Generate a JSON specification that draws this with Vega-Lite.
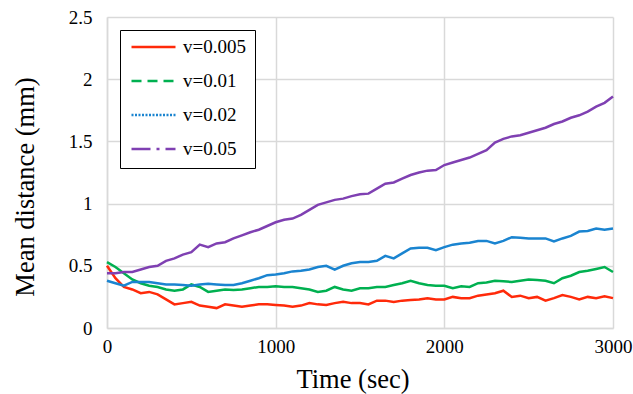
{
 "$schema": "https://vega.github.io/schema/vega-lite/v6.json",
 "width": 506, "height": 311,
 "autosize": {"type": "none"},
 "padding": {"left": 107, "top": 17, "right": 20, "bottom": 66},
 "background": "white",
 "config": {
  "view": {"stroke": null},
  "font": "Liberation Serif",
  "axis": {"gridColor": "#d9d9d9", "gridWidth": 1.5, "domainColor": "#d9d9d9", "domainWidth": 1.5, "ticks": false, "labelFont": "Liberation Serif", "labelFontSize": 19, "labelColor": "#000", "labelFlush": false, "titleFont": "Liberation Serif", "titleFontSize": 26.5, "titleFontWeight": "normal", "titleColor": "#000"}
 },
 "datasets": {
  "curves": [
{"t":0,"s":"v=0.005","d":0.50},{"t":50,"s":"v=0.005","d":0.40},{"t":100,"s":"v=0.005","d":0.33},{"t":150,"s":"v=0.005","d":0.31},{"t":200,"s":"v=0.005","d":0.28},{"t":250,"s":"v=0.005","d":0.29},{"t":300,"s":"v=0.005","d":0.27},{"t":350,"s":"v=0.005","d":0.23},{"t":400,"s":"v=0.005","d":0.19},{"t":450,"s":"v=0.005","d":0.20},{"t":500,"s":"v=0.005","d":0.21},{"t":550,"s":"v=0.005","d":0.18},{"t":600,"s":"v=0.005","d":0.17},{"t":650,"s":"v=0.005","d":0.16},{"t":700,"s":"v=0.005","d":0.19},{"t":750,"s":"v=0.005","d":0.18},{"t":800,"s":"v=0.005","d":0.17},{"t":850,"s":"v=0.005","d":0.18},{"t":900,"s":"v=0.005","d":0.19},{"t":950,"s":"v=0.005","d":0.19},{"t":1000,"s":"v=0.005","d":0.185},{"t":1050,"s":"v=0.005","d":0.18},{"t":1100,"s":"v=0.005","d":0.17},{"t":1150,"s":"v=0.005","d":0.18},{"t":1200,"s":"v=0.005","d":0.20},{"t":1250,"s":"v=0.005","d":0.19},{"t":1300,"s":"v=0.005","d":0.185},{"t":1350,"s":"v=0.005","d":0.20},{"t":1400,"s":"v=0.005","d":0.21},{"t":1450,"s":"v=0.005","d":0.20},{"t":1500,"s":"v=0.005","d":0.20},{"t":1550,"s":"v=0.005","d":0.19},{"t":1600,"s":"v=0.005","d":0.22},{"t":1650,"s":"v=0.005","d":0.22},{"t":1700,"s":"v=0.005","d":0.21},{"t":1750,"s":"v=0.005","d":0.22},{"t":1800,"s":"v=0.005","d":0.225},{"t":1850,"s":"v=0.005","d":0.23},{"t":1900,"s":"v=0.005","d":0.24},{"t":1950,"s":"v=0.005","d":0.23},{"t":2000,"s":"v=0.005","d":0.23},{"t":2050,"s":"v=0.005","d":0.25},{"t":2100,"s":"v=0.005","d":0.24},{"t":2150,"s":"v=0.005","d":0.24},{"t":2200,"s":"v=0.005","d":0.26},{"t":2250,"s":"v=0.005","d":0.27},{"t":2300,"s":"v=0.005","d":0.28},{"t":2350,"s":"v=0.005","d":0.30},{"t":2400,"s":"v=0.005","d":0.25},{"t":2450,"s":"v=0.005","d":0.26},{"t":2500,"s":"v=0.005","d":0.24},{"t":2550,"s":"v=0.005","d":0.25},{"t":2600,"s":"v=0.005","d":0.22},{"t":2650,"s":"v=0.005","d":0.24},{"t":2700,"s":"v=0.005","d":0.265},{"t":2750,"s":"v=0.005","d":0.25},{"t":2800,"s":"v=0.005","d":0.23},{"t":2850,"s":"v=0.005","d":0.25},{"t":2900,"s":"v=0.005","d":0.24},{"t":2950,"s":"v=0.005","d":0.255},{"t":3000,"s":"v=0.005","d":0.24},
{"t":0,"s":"v=0.01","d":0.53},{"t":50,"s":"v=0.01","d":0.49},{"t":100,"s":"v=0.01","d":0.44},{"t":150,"s":"v=0.01","d":0.39},{"t":200,"s":"v=0.01","d":0.36},{"t":250,"s":"v=0.01","d":0.34},{"t":300,"s":"v=0.01","d":0.33},{"t":350,"s":"v=0.01","d":0.31},{"t":400,"s":"v=0.01","d":0.30},{"t":450,"s":"v=0.01","d":0.31},{"t":500,"s":"v=0.01","d":0.35},{"t":550,"s":"v=0.01","d":0.33},{"t":600,"s":"v=0.01","d":0.29},{"t":650,"s":"v=0.01","d":0.30},{"t":700,"s":"v=0.01","d":0.31},{"t":750,"s":"v=0.01","d":0.305},{"t":800,"s":"v=0.01","d":0.31},{"t":850,"s":"v=0.01","d":0.32},{"t":900,"s":"v=0.01","d":0.33},{"t":950,"s":"v=0.01","d":0.33},{"t":1000,"s":"v=0.01","d":0.335},{"t":1050,"s":"v=0.01","d":0.33},{"t":1100,"s":"v=0.01","d":0.33},{"t":1150,"s":"v=0.01","d":0.32},{"t":1200,"s":"v=0.01","d":0.31},{"t":1250,"s":"v=0.01","d":0.29},{"t":1300,"s":"v=0.01","d":0.30},{"t":1350,"s":"v=0.01","d":0.33},{"t":1400,"s":"v=0.01","d":0.31},{"t":1450,"s":"v=0.01","d":0.30},{"t":1500,"s":"v=0.01","d":0.32},{"t":1550,"s":"v=0.01","d":0.32},{"t":1600,"s":"v=0.01","d":0.33},{"t":1650,"s":"v=0.01","d":0.33},{"t":1700,"s":"v=0.01","d":0.345},{"t":1750,"s":"v=0.01","d":0.36},{"t":1800,"s":"v=0.01","d":0.38},{"t":1850,"s":"v=0.01","d":0.36},{"t":1900,"s":"v=0.01","d":0.345},{"t":1950,"s":"v=0.01","d":0.34},{"t":2000,"s":"v=0.01","d":0.34},{"t":2050,"s":"v=0.01","d":0.32},{"t":2100,"s":"v=0.01","d":0.335},{"t":2150,"s":"v=0.01","d":0.33},{"t":2200,"s":"v=0.01","d":0.36},{"t":2250,"s":"v=0.01","d":0.365},{"t":2300,"s":"v=0.01","d":0.38},{"t":2350,"s":"v=0.01","d":0.375},{"t":2400,"s":"v=0.01","d":0.37},{"t":2450,"s":"v=0.01","d":0.38},{"t":2500,"s":"v=0.01","d":0.39},{"t":2550,"s":"v=0.01","d":0.385},{"t":2600,"s":"v=0.01","d":0.38},{"t":2650,"s":"v=0.01","d":0.36},{"t":2700,"s":"v=0.01","d":0.40},{"t":2750,"s":"v=0.01","d":0.42},{"t":2800,"s":"v=0.01","d":0.45},{"t":2850,"s":"v=0.01","d":0.46},{"t":2900,"s":"v=0.01","d":0.475},{"t":2950,"s":"v=0.01","d":0.49},{"t":3000,"s":"v=0.01","d":0.45},
{"t":0,"s":"v=0.02","d":0.38},{"t":50,"s":"v=0.02","d":0.36},{"t":100,"s":"v=0.02","d":0.34},{"t":150,"s":"v=0.02","d":0.37},{"t":200,"s":"v=0.02","d":0.37},{"t":250,"s":"v=0.02","d":0.37},{"t":300,"s":"v=0.02","d":0.36},{"t":350,"s":"v=0.02","d":0.35},{"t":400,"s":"v=0.02","d":0.35},{"t":450,"s":"v=0.02","d":0.345},{"t":500,"s":"v=0.02","d":0.34},{"t":550,"s":"v=0.02","d":0.35},{"t":600,"s":"v=0.02","d":0.355},{"t":650,"s":"v=0.02","d":0.35},{"t":700,"s":"v=0.02","d":0.345},{"t":750,"s":"v=0.02","d":0.345},{"t":800,"s":"v=0.02","d":0.36},{"t":850,"s":"v=0.02","d":0.38},{"t":900,"s":"v=0.02","d":0.40},{"t":950,"s":"v=0.02","d":0.425},{"t":1000,"s":"v=0.02","d":0.43},{"t":1050,"s":"v=0.02","d":0.44},{"t":1100,"s":"v=0.02","d":0.455},{"t":1150,"s":"v=0.02","d":0.46},{"t":1200,"s":"v=0.02","d":0.47},{"t":1250,"s":"v=0.02","d":0.49},{"t":1300,"s":"v=0.02","d":0.50},{"t":1350,"s":"v=0.02","d":0.47},{"t":1400,"s":"v=0.02","d":0.50},{"t":1450,"s":"v=0.02","d":0.52},{"t":1500,"s":"v=0.02","d":0.53},{"t":1550,"s":"v=0.02","d":0.53},{"t":1600,"s":"v=0.02","d":0.54},{"t":1650,"s":"v=0.02","d":0.58},{"t":1700,"s":"v=0.02","d":0.56},{"t":1750,"s":"v=0.02","d":0.60},{"t":1800,"s":"v=0.02","d":0.64},{"t":1850,"s":"v=0.02","d":0.645},{"t":1900,"s":"v=0.02","d":0.645},{"t":1950,"s":"v=0.02","d":0.625},{"t":2000,"s":"v=0.02","d":0.65},{"t":2050,"s":"v=0.02","d":0.67},{"t":2100,"s":"v=0.02","d":0.68},{"t":2150,"s":"v=0.02","d":0.685},{"t":2200,"s":"v=0.02","d":0.70},{"t":2250,"s":"v=0.02","d":0.70},{"t":2300,"s":"v=0.02","d":0.68},{"t":2350,"s":"v=0.02","d":0.70},{"t":2400,"s":"v=0.02","d":0.73},{"t":2450,"s":"v=0.02","d":0.725},{"t":2500,"s":"v=0.02","d":0.72},{"t":2550,"s":"v=0.02","d":0.72},{"t":2600,"s":"v=0.02","d":0.72},{"t":2650,"s":"v=0.02","d":0.695},{"t":2700,"s":"v=0.02","d":0.72},{"t":2750,"s":"v=0.02","d":0.74},{"t":2800,"s":"v=0.02","d":0.775},{"t":2850,"s":"v=0.02","d":0.78},{"t":2900,"s":"v=0.02","d":0.80},{"t":2950,"s":"v=0.02","d":0.79},{"t":3000,"s":"v=0.02","d":0.80},
{"t":0,"s":"v=0.05","d":0.44},{"t":50,"s":"v=0.05","d":0.44},{"t":100,"s":"v=0.05","d":0.45},{"t":150,"s":"v=0.05","d":0.45},{"t":200,"s":"v=0.05","d":0.47},{"t":250,"s":"v=0.05","d":0.49},{"t":300,"s":"v=0.05","d":0.50},{"t":350,"s":"v=0.05","d":0.54},{"t":400,"s":"v=0.05","d":0.56},{"t":450,"s":"v=0.05","d":0.59},{"t":500,"s":"v=0.05","d":0.61},{"t":550,"s":"v=0.05","d":0.67},{"t":600,"s":"v=0.05","d":0.65},{"t":650,"s":"v=0.05","d":0.68},{"t":700,"s":"v=0.05","d":0.69},{"t":750,"s":"v=0.05","d":0.72},{"t":800,"s":"v=0.05","d":0.745},{"t":850,"s":"v=0.05","d":0.77},{"t":900,"s":"v=0.05","d":0.79},{"t":950,"s":"v=0.05","d":0.82},{"t":1000,"s":"v=0.05","d":0.85},{"t":1050,"s":"v=0.05","d":0.87},{"t":1100,"s":"v=0.05","d":0.88},{"t":1150,"s":"v=0.05","d":0.91},{"t":1200,"s":"v=0.05","d":0.95},{"t":1250,"s":"v=0.05","d":0.99},{"t":1300,"s":"v=0.05","d":1.01},{"t":1350,"s":"v=0.05","d":1.03},{"t":1400,"s":"v=0.05","d":1.04},{"t":1450,"s":"v=0.05","d":1.06},{"t":1500,"s":"v=0.05","d":1.075},{"t":1550,"s":"v=0.05","d":1.08},{"t":1600,"s":"v=0.05","d":1.12},{"t":1650,"s":"v=0.05","d":1.16},{"t":1700,"s":"v=0.05","d":1.17},{"t":1750,"s":"v=0.05","d":1.20},{"t":1800,"s":"v=0.05","d":1.23},{"t":1850,"s":"v=0.05","d":1.25},{"t":1900,"s":"v=0.05","d":1.265},{"t":1950,"s":"v=0.05","d":1.27},{"t":2000,"s":"v=0.05","d":1.31},{"t":2050,"s":"v=0.05","d":1.33},{"t":2100,"s":"v=0.05","d":1.35},{"t":2150,"s":"v=0.05","d":1.37},{"t":2200,"s":"v=0.05","d":1.40},{"t":2250,"s":"v=0.05","d":1.43},{"t":2300,"s":"v=0.05","d":1.49},{"t":2350,"s":"v=0.05","d":1.52},{"t":2400,"s":"v=0.05","d":1.54},{"t":2450,"s":"v=0.05","d":1.55},{"t":2500,"s":"v=0.05","d":1.57},{"t":2550,"s":"v=0.05","d":1.59},{"t":2600,"s":"v=0.05","d":1.61},{"t":2650,"s":"v=0.05","d":1.64},{"t":2700,"s":"v=0.05","d":1.66},{"t":2750,"s":"v=0.05","d":1.69},{"t":2800,"s":"v=0.05","d":1.71},{"t":2850,"s":"v=0.05","d":1.74},{"t":2900,"s":"v=0.05","d":1.78},{"t":2950,"s":"v=0.05","d":1.81},{"t":3000,"s":"v=0.05","d":1.86}
  ]
 },
 "data": {"name": "curves"},
 "encoding": {
  "x": {"field": "t", "type": "quantitative", "title": "Time (sec)", "scale": {"domain": [0, 3000], "nice": false}, "axis": {"values": [0, 1000, 2000, 3000], "format": "d", "labelFont": "Liberation Serif", "labelPadding": 9, "titleX": 245.5, "titleY": 59, "titleBaseline": "alphabetic"}},
  "y": {"field": "d", "type": "quantitative", "title": "Mean distance (mm)", "scale": {"domain": [0, 2.5], "nice": false}, "axis": {"values": [0, 0.5, 1, 1.5, 2, 2.5], "format": "~g", "labelFont": "Liberation Serif", "labelPadding": 15, "titleX": -74, "titleY": 169.5, "titleBaseline": "alphabetic"}}
 },
 "layer": [
  {
   "mark": {"type": "line", "strokeWidth": 2.5},
   "encoding": {
    "stroke": {"field": "s", "type": "nominal", "scale": {"range": ["#ff2a0a", "#00b050", "#1a84d0", "#7f40b2"]}, "legend": null}
   }
  },
  {
   "mark": {"type": "line", "strokeWidth": 2.5, "opacity": 0},
   "encoding": {
    "color": {"field": "s", "type": "nominal", "title": null,
     "scale": {"domain": ["v=0.005", "v=0.01", "v=0.02", "v=0.05"], "range": ["#ff2a0a", "#00b050", "#1a84d0", "#7f40b2"]},
     "legend": {"orient": "none", "legendX": 13, "legendY": 13, "strokeColor": "black", "fillColor": "white", "padding": 9, "symbolOffset": 1, "symbolType": "stroke", "symbolSize": 1936, "symbolStrokeWidth": 2.5, "symbolOpacity": 1, "labelFont": "Liberation Serif", "labelFontSize": 19, "labelColor": "#000", "labelOffset": 6, "clipHeight": 16, "rowPadding": 15}},
    "strokeDash": {"field": "s", "type": "nominal", "title": null, "scale": {"domain": ["v=0.005", "v=0.01", "v=0.02", "v=0.05"], "range": [[1, 0], [10, 6], [2, 1.5], [19, 6, 3, 6]]}}
   }
  }
 ]
}
